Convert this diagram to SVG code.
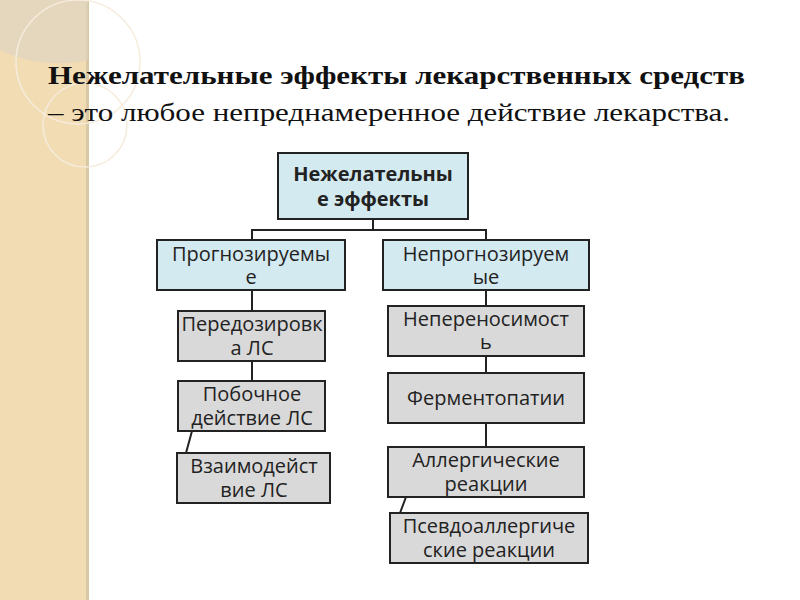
<svg xmlns="http://www.w3.org/2000/svg" width="800" height="600" viewBox="0 0 800 600">
<style>
.b{stroke:#222;stroke-width:2}
.blue{fill:#d3eaf0}
.gray{fill:#d9d9d9}
.t{font-family:"Open Sans","DejaVu Sans",sans-serif;font-size:20px;fill:#222;text-anchor:middle}
.tb{font-weight:bold}
.c{stroke:#222;stroke-width:2;fill:none}
</style>
<rect width="800" height="600" fill="#fff"/>
<rect width="88" height="600" fill="#f1dcb4"/>
<rect x="86" width="3" height="600" fill="#d9c8a5"/>
<path d="M0 0H88V60Q40 70 0 50Z" fill="#ddd3c4" opacity="0.6"/>
<circle cx="78" cy="62" r="62" fill="none" stroke="#f6ecdc" stroke-width="1.5"/>
<circle cx="85" cy="125" r="42" fill="none" stroke="#f6ecdc" stroke-width="1.5"/>
<g font-family="Liberation Serif,serif" font-size="26" fill="#111">
<text x="48" y="84" font-weight="bold" textLength="697" lengthAdjust="spacingAndGlyphs">Нежелательные эффекты лекарственных средств</text>
<text x="48" y="121" textLength="682" lengthAdjust="spacingAndGlyphs">– это любое непреднамеренное действие лекарства.</text>
</g>
<g id="connectors">
<path class="c" d="M373 219V230M252 240V230H486V240M252 290V311M252 361V381M192 431L186 453M486 290V306M486 356V373M486 423V447M406 497L400 513"/>
</g>
<g id="n0"><rect class="b blue" x="278" y="153" width="190" height="66"/><text class="t tb" x="373" y="181">Нежелательны</text><text class="t tb" x="373" y="206">е эффекты</text></g>
<g id="n1"><rect class="b blue" x="157" y="240" width="188" height="50"/><text class="t" x="251" y="261">Прогнозируемы</text><text class="t" x="251" y="284">е</text></g>
<g id="n2"><rect class="b blue" x="383" y="240" width="206" height="50"/><text class="t" x="486" y="261">Непрогнозируем</text><text class="t" x="486" y="284">ые</text></g>
<g id="n3"><rect class="b gray" x="178" y="311" width="147" height="50"/><text class="t" x="252" y="331" font-size="17.5">Передозировк</text><text class="t" x="252" y="355" font-size="17.5">а ЛС</text></g>
<g id="n4"><rect class="b gray" x="178" y="381" width="147" height="50"/><text class="t" x="252" y="401">Побочное</text><text class="t" x="252" y="425">действие ЛС</text></g>
<g id="n5"><rect class="b gray" x="177" y="453" width="153" height="50"/><text class="t" x="254" y="473">Взаимодейст</text><text class="t" x="254" y="497">вие ЛС</text></g>
<g id="n6"><rect class="b gray" x="388" y="306" width="196" height="50"/><text class="t" x="486" y="326">Непереносимост</text><text class="t" x="486" y="349">ь</text></g>
<g id="n7"><rect class="b gray" x="388" y="373" width="196" height="50"/><text class="t" x="486" y="405">Ферментопатии</text></g>
<g id="n8"><rect class="b gray" x="388" y="447" width="196" height="50"/><text class="t" x="486" y="467">Аллергические</text><text class="t" x="486" y="491">реакции</text></g>
<g id="n9"><rect class="b gray" x="390" y="513" width="198" height="50"/><text class="t" x="489" y="533">Псевдоаллергиче</text><text class="t" x="489" y="557">ские реакции</text></g>
</svg>
